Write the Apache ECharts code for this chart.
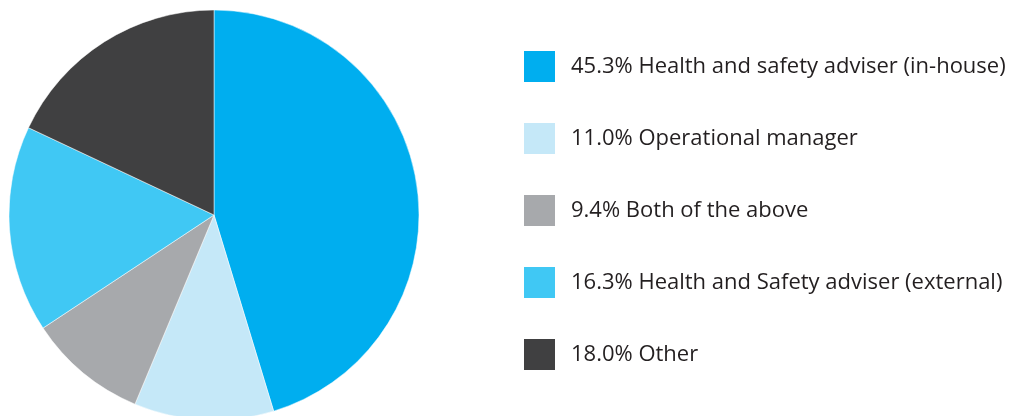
<!DOCTYPE html>
<html>
<head>
<meta charset="utf-8">
<script src="https://cdn.jsdelivr.net/npm/echarts@6/dist/echarts.min.js"></script>
<style>
  html, body { margin: 0; padding: 0; background: #fff; }
  #chart { width: 1010px; height: 416px; }
</style>
</head>
<body>
<div id="chart"></div>
<script>
// 数据
const names = ['Health and safety adviser (in-house)', 'Operational manager', 'Both of the above', 'Health and Safety adviser (external)', 'Other'];
const values = [45.3, 11.0, 9.4, 16.3, 18.0];
const colors = ['#00aeef', '#c5e8f8', '#a7a9ac', '#40c8f4', '#404041'];

let chart = echarts.init(document.getElementById('chart'));

let option = {
  backgroundColor: '#ffffff',
  animation: false,
  legend: {
    orient: 'vertical',
    left: 522,
    top: 49,
    padding: 0,
    itemWidth: 33,
    itemHeight: 33,
    itemGap: 37,
    icon: 'rect',
    selectedMode: false,
    textStyle: {
      fontFamily: 'Open Sans',
      fontSize: 22,
      color: '#231f20',
      padding: [0, 0, 0, 10],
    },
    formatter: function (name) {
      let i = names.indexOf(name);
      return values[i].toFixed(1) + '% ' + name;
    },
    data: names,
  },
  series: [
    {
      type: 'pie',
      center: [214, 215],
      radius: 205,
      startAngle: 90,
      clockwise: true,
      label: { show: false },
      labelLine: { show: false },
      itemStyle: {
        borderColor: '#ffffff',
        borderWidth: 0.5, //细白边
      },
      emphasis: { disabled: true },
      data: names.map((n, i) => ({ name: n, value: values[i], itemStyle: { color: colors[i] } })),
    },
  ],
};

chart.setOption(option);
</script>
</body>
</html>
